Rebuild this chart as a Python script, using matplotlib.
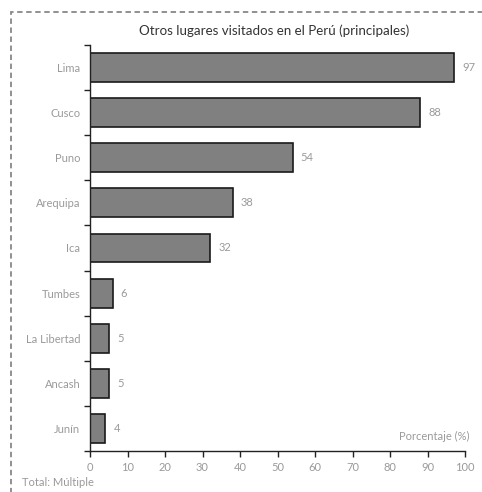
import matplotlib.pyplot as plt
from matplotlib.patches import Rectangle

lugares = ["Lima", "Cusco", "Puno", "Arequipa", "Ica", "Tumbes", "La Libertad", "Ancash", "Junín"]
porcentajes = [97, 88, 54, 38, 32, 6, 5, 5, 4]
xticks = [0, 10, 20, 30, 40, 50, 60, 70, 80, 90, 100]

plt.rcParams['font.family'] = ['Lato', 'DejaVu Sans']
gris = "#9a9a9a"

fig = plt.figure(figsize=(4.82, 4.92), dpi=100)
ax = fig.add_axes([90 / 482, 41 / 492, 375 / 482, 406 / 492])

pos = list(range(len(lugares)))
ax.barh(pos, porcentajes, height=0.64, color="#808080", edgecolor="#1a1a1a", linewidth=1.2)
ax.set_ylim(len(lugares) - 0.5, -0.5)
ax.set_xlim(0, 100)

for p, v in zip(pos, porcentajes):
    ax.annotate(str(v), (v, p), xytext=(6, 0), textcoords="offset points",
                va="center", ha="left", fontsize=8, color=gris)

ax.set_yticks([p + 0.5 for p in [-1] + pos])
ax.set_yticklabels([])
ax.set_yticks(pos, minor=True)
ax.set_yticklabels(lugares, minor=True)
ax.tick_params(axis="y", which="minor", length=0, pad=7, labelsize=8, labelcolor=gris)
ax.tick_params(axis="y", which="major", length=4, width=1, color="#222")
ax.set_xticks(xticks)
ax.tick_params(axis="x", length=4, width=1, color="#222", labelsize=8, labelcolor=gris, pad=4)

for s in ["top", "right"]:
    ax.spines[s].set_visible(False)
for s in ["left", "bottom"]:
    ax.spines[s].set_linewidth(1)
    ax.spines[s].set_color("#222")

ax.text(1.013, 0.035, "Porcentaje (%)", transform=ax.transAxes, ha="right", va="center",
        fontsize=8, color=gris)
fig.text(274 / 482, 1 - 31 / 492, "Otros lugares visitados en el Perú (principales)",
         ha="center", va="center", fontsize=9.6, color="#333")
fig.text(22 / 482, 1 - 483 / 492, "Total: Múltiple", ha="left", va="center",
         fontsize=8, color=gris)

fig.patches.append(Rectangle((11 / 482, -0.1), 1.2, 1 - 12 / 492 + 0.1, transform=fig.transFigure,
                             fill=False, edgecolor="#888", linewidth=1.3, linestyle=(0, (3, 2))))

fig.savefig("out.png", dpi=100)
